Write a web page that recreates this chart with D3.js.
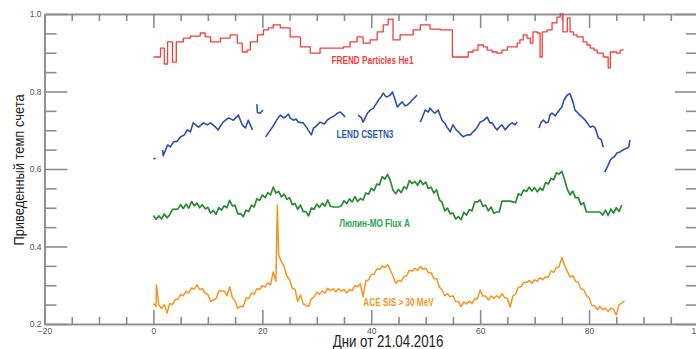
<!DOCTYPE html>
<html>
<head>
<meta charset="utf-8">
<script src="https://cdn.jsdelivr.net/npm/d3@7"></script>
<style>
  body { margin: 0; background: #fff; }
  svg { display: block; }
  .axis path, .axis line { stroke: #8c8c8c; stroke-width: 1.6; }
  .axis text { font-family: "Liberation Sans", Arial, sans-serif; font-size: 8.5px; fill: #555; }
  .title { font-family: "Liberation Sans", Arial, sans-serif; fill: #222; }
  .lab { font-family: "Liberation Sans", Arial, sans-serif; font-weight: bold; font-size: 10px; }
</style>
</head>
<body>
<svg id="chart" width="696" height="349"></svg>
<script>
// x ticks and y ticks
const xMajor = [-20, 0, 20, 40, 60, 80, 100];
const yMajor = [0.2, 0.4, 0.6, 0.8, 1.0];

// FREND Particles He1 (step line)
const frendDays = [0, 1.3, 2.0, 2.6, 3.5, 4.2, 5.5, 6.8, 8.6, 9.5, 10.5, 12.3, 14.1, 15.4, 16.3, 17.2, 17.8, 19.1, 20.2, 21.1,
  22.0, 23.3, 25.1, 27.0, 28.8, 30.6, 33.0, 34.9, 36.1, 37.4, 38.5, 39.8, 41.1, 42.2, 43.1, 44.0, 45.3, 47.7, 49.0, 50.8,
  52.7, 54.9, 57.8, 58.7, 59.6, 60.6, 61.3, 62.2, 63.1, 64.0, 65.0, 65.9, 66.8, 67.3, 67.9, 68.6, 69.2, 69.7, 70.5, 71.0,
  71.4, 72.3, 73.2, 74.1, 74.7, 75.2, 76.0, 76.5, 77.1, 77.8, 78.9, 79.6, 80.2, 80.9, 81.5, 82.6, 83.5, 83.9, 84.2, 85.1,
  85.7, 86.2];
const frendValues = [0.889, 0.912, 0.871, 0.928, 0.876, 0.928, 0.938, 0.943, 0.951, 0.941, 0.928, 0.938, 0.946, 0.925, 0.902, 0.907, 0.928, 0.946, 0.959, 0.964,
  0.972, 0.964, 0.941, 0.915, 0.899, 0.912, 0.912, 0.915, 0.928, 0.941, 0.925, 0.933, 0.954, 0.972, 0.987, 0.933, 0.946, 0.959, 0.972, 0.961,
  0.959, 0.889, 0.902, 0.907, 0.920, 0.915, 0.907, 0.902, 0.899, 0.907, 0.915, 0.915, 0.925, 0.933, 0.946, 0.938, 0.925, 0.954, 0.951, 0.889,
  0.954, 0.959, 0.977, 0.992, 1.0, 0.954, 0.990, 0.954, 0.946, 0.941, 0.928, 0.920, 0.912, 0.907, 0.899, 0.889, 0.861, 0.902, 0.902, 0.899,
  0.907, 0.910];

// LEND CSETN3 (null = data gap)
const lendDays = [0, 0.4, 1.0,
  1.7, 1.8, 2.6, 3.1, 3.7, 4.4, 5.0, 5.7, 6.2, 6.8, 7.3, 8.3, 9.2, 9.9, 10.5, 11.4, 11.9, 12.3, 12.8, 13.8, 14.7, 15.6, 16.3, 16.9, 17.4, 18.2, 18.5,
  19.0, 19.1, 19.6, 20.1, 20.3,
  20.6, 21.1, 21.5, 22.0, 22.4, 22.9, 23.3, 23.9, 24.2, 24.8, 25.1, 25.7, 26.2, 26.6, 27.5, 28.1, 28.4, 29.0, 29.4, 29.7, 30.6, 31.4, 31.9, 32.5, 32.8,
  33.4, 33.8, 34.3, 34.9, 35.2, 36.0,
  37.6, 38.2, 38.5, 39.3, 39.8, 40.4, 40.9, 41.3, 41.8, 42.2, 42.6, 42.9, 43.5, 43.9, 44.4, 44.8, 45.3, 45.7, 46.2, 46.6, 47.2, 47.5, 48.1, 48.4, 48.7,
  49.0, 49.4, 49.9, 50.5, 50.8, 51.4, 51.7, 52.3, 52.7, 53.0, 53.6, 53.9, 54.5, 55.0, 55.6, 56.0, 56.5, 56.9, 57.6, 58.2, 58.7, 59.1, 59.6, 60.0, 60.7,
  61.3, 61.8, 62.2, 62.8, 63.1, 63.7, 64.0, 64.6, 65.0, 65.5, 65.9, 66.4, 66.8, 68.0,
  70.8, 71.2, 71.6, 72.1, 72.5, 72.8, 73.2, 73.8, 74.1, 74.7, 75.0, 75.4, 76.0, 76.5, 77.1, 77.4, 77.8, 78.3, 78.9, 79.3, 79.8, 80.2, 80.7, 81.1, 81.5,
  81.7, 82.2, 82.6, 82.75,
  82.9, 83.5, 83.9, 84.2, 84.6, 85.1, 85.7, 86.2, 87.0, 87.3, 87.5];
const lendValues = [0.628, 0.626, null,
  0.649, 0.634, 0.662, 0.657, 0.670, 0.672, 0.683, 0.688, 0.701, 0.696, 0.719, 0.708, 0.719, 0.714, 0.719, 0.708, 0.701, 0.711, 0.721, 0.732, 0.726, 0.739, 0.714, 0.706, 0.726, 0.701, null,
  0.767, 0.746, 0.744, 0.752, null,
  0.683, 0.693, 0.701, 0.711, 0.721, 0.732, 0.739, 0.732, 0.734, 0.742, 0.732, 0.726, 0.729, 0.721, 0.719, 0.708, 0.701, 0.688, 0.706, 0.708, 0.721, 0.716, 0.726, 0.732, 0.734,
  0.739, 0.744, 0.747, 0.739, 0.734, null,
  0.739, 0.732, 0.721, 0.744, 0.752, 0.757, 0.768, 0.778, 0.786, 0.796, 0.788, 0.786, 0.791, 0.799, 0.778, 0.760, 0.768, 0.773, 0.763, 0.765, 0.773, 0.778, 0.786, 0.791, null,
  0.721, 0.734, 0.752, 0.747, 0.757, 0.747, 0.744, 0.752, 0.737, 0.726, 0.716, 0.708, 0.696, 0.714, 0.701, 0.696, 0.688, 0.683, 0.688, 0.688, 0.696, 0.701, 0.711, 0.721, 0.726,
  0.734, 0.719, 0.719, 0.706, 0.701, 0.711, 0.714, 0.701, 0.708, 0.716, 0.719, 0.714, 0.721, null,
  0.706, 0.721, 0.726, 0.719, 0.721, 0.739, 0.744, 0.737, 0.744, 0.755, 0.760, 0.778, 0.791, 0.794, 0.770, 0.752, 0.747, 0.739, 0.732, 0.726, 0.716, 0.708, 0.711, 0.706, 0.690,
  0.680, 0.677, 0.657, null,
  0.592, 0.610, 0.623, 0.628, 0.631, 0.641, 0.644, 0.649, 0.654, 0.657, 0.675];

// Люлин-МО Flux A, one value every half day from day 0
const lulinStep = 0.5;
const lulinValues = [
  0.480, 0.470, 0.479, 0.471, 0.484, 0.474, 0.482, 0.496, 0.496, 0.497,
  0.508, 0.498, 0.509, 0.499, 0.516, 0.505, 0.512, 0.500, 0.508, 0.497,
  0.501, 0.486, 0.493, 0.483, 0.500, 0.494, 0.505, 0.500, 0.519, 0.505,
  0.506, 0.484, 0.485, 0.477, 0.494, 0.490, 0.507, 0.502, 0.523, 0.519,
  0.533, 0.526, 0.539, 0.533, 0.553, 0.538, 0.542, 0.528, 0.535, 0.522,
  0.526, 0.508, 0.511, 0.496, 0.507, 0.490, 0.490, 0.479, 0.499, 0.496,
  0.509, 0.501, 0.512, 0.504, 0.520, 0.504, 0.502, 0.502, 0.502, 0.505,
  0.518, 0.511, 0.523, 0.515, 0.529, 0.516, 0.524, 0.520, 0.538, 0.535,
  0.550, 0.544, 0.561, 0.559, 0.580, 0.574, 0.586, 0.570, 0.545, 0.536,
  0.547, 0.539, 0.554, 0.549, 0.570, 0.562, 0.568, 0.558, 0.571, 0.560,
  0.566, 0.550, 0.553, 0.538, 0.546, 0.521, 0.514, 0.492, 0.499, 0.484,
  0.487, 0.471, 0.477, 0.469, 0.488, 0.481, 0.495, 0.492, 0.515, 0.515,
  0.520, 0.504, 0.507, 0.492, 0.502, 0.486, 0.489, 0.489, 0.517, 0.517,
  0.517, 0.517, 0.515, 0.513, 0.536, 0.532, 0.546, 0.542, 0.553, 0.543,
  0.552, 0.541, 0.551, 0.545, 0.565, 0.561, 0.576, 0.572, 0.590, 0.587,
  0.594, 0.572, 0.548, 0.533, 0.543, 0.526, 0.526, 0.508, 0.513, 0.489,
  0.489, 0.489, 0.489, 0.489, 0.489, 0.481, 0.494, 0.480, 0.497, 0.486,
  0.500, 0.490, 0.507];

// ACE SIS > 30 MeV, one value every half day from day 0, plus narrow spikes
const aceStep = 0.5;
const aceValues = [
  0.253, 0.245, 0.249, 0.240, 0.250, 0.228, 0.253, 0.250, 0.263, 0.264,
  0.276, 0.273, 0.284, 0.280, 0.293, 0.290, 0.301, 0.289, 0.291, 0.280,
  0.276, 0.258, 0.262, 0.265, 0.285, 0.285, 0.285, 0.273, 0.296, 0.268,
  0.260, 0.240, 0.246, 0.245, 0.267, 0.266, 0.280, 0.277, 0.291, 0.289,
  0.299, 0.295, 0.306, 0.301, 0.334, 0.310, 0.378, 0.361, 0.348, 0.324,
  0.314, 0.292, 0.290, 0.258, 0.275, 0.252, 0.248, 0.245, 0.265, 0.270,
  0.282, 0.277, 0.285, 0.280, 0.292, 0.286, 0.291, 0.283, 0.291, 0.285,
  0.289, 0.280, 0.289, 0.286, 0.299, 0.296, 0.304, 0.270, 0.311, 0.314,
  0.328, 0.328, 0.342, 0.341, 0.350, 0.346, 0.353, 0.340, 0.323, 0.305,
  0.313, 0.310, 0.323, 0.324, 0.339, 0.336, 0.344, 0.338, 0.348, 0.341,
  0.344, 0.332, 0.332, 0.317, 0.317, 0.296, 0.287, 0.273, 0.278, 0.270,
  0.273, 0.258, 0.258, 0.245, 0.257, 0.252, 0.259, 0.253, 0.265, 0.265,
  0.288, 0.272, 0.272, 0.262, 0.272, 0.266, 0.273, 0.267, 0.278, 0.268,
  0.266, 0.244, 0.272, 0.277, 0.295, 0.296, 0.308, 0.307, 0.312, 0.305,
  0.314, 0.310, 0.320, 0.314, 0.322, 0.320, 0.337, 0.333, 0.346, 0.348,
  0.372, 0.351, 0.336, 0.321, 0.325, 0.310, 0.307, 0.291, 0.289, 0.274,
  0.268, 0.248, 0.247, 0.237, 0.245, 0.237, 0.241, 0.232, 0.241, 0.238,
  0.223, 0.250, 0.254, 0.260];
const aceSpikeDays = [0.55, 22.75];
const aceSpikeValues = [0.301, 0.507];

const seriesLabels = ["FREND Particles He1", "LEND CSETN3", "Люлин-МО Flux A", "ACE SIS > 30 MeV"];
const seriesColors = ["#f0403c", "#2c52a8", "#2a8a34", "#f7941d"];

const svg = d3.select("#chart");
const x = d3.scaleLinear().domain([-20, 100]).range([44.5, 698]);
const y = d3.scaleLinear().domain([0.2, 1.0]).range([324, 14]);

const xMinor = d3.range(-20, 101, 5).filter(v => v % 20 !== 0);
const yMinor = d3.range(0.2, 1.0001, 0.05).map(v => +v.toFixed(2)).filter(v => Math.round(v * 100) % 20 !== 0);

// axes: ticks point inward
function addAxis(axis, tr) {
  svg.append("g").attr("class", "axis").attr("transform", tr).call(axis);
}
addAxis(d3.axisBottom(x).tickValues(xMinor).tickSize(-7).tickSizeOuter(0).tickFormat(""), `translate(0,${y(0.2)})`);
addAxis(d3.axisBottom(x).tickValues(xMajor).tickSize(-14).tickSizeOuter(0).tickPadding(4).tickFormat(d3.format("d")), `translate(0,${y(0.2)})`);
addAxis(d3.axisTop(x).tickValues(xMinor).tickSize(-7).tickSizeOuter(0).tickFormat(""), `translate(0,${y(1.0)})`);
addAxis(d3.axisTop(x).tickValues(xMajor).tickSize(-14).tickSizeOuter(0).tickFormat(""), `translate(0,${y(1.0)})`);
addAxis(d3.axisLeft(y).tickValues(yMinor).tickSize(-12).tickSizeOuter(0).tickFormat(""), `translate(${x(-20)},0)`);
addAxis(d3.axisLeft(y).tickValues(yMajor).tickSize(-23).tickSizeOuter(0).tickPadding(3).tickFormat(d3.format(".1f")), `translate(${x(-20)},0)`);
addAxis(d3.axisRight(y).tickValues(yMinor).tickSize(-12).tickSizeOuter(0).tickFormat(""), `translate(${x(100)},0)`);
addAxis(d3.axisRight(y).tickValues(yMajor).tickSize(-23).tickSizeOuter(0).tickFormat(""), `translate(${x(100)},0)`);

// build point lists
const frend = frendDays.map((d, i) => [d, frendValues[i]]);
const lend = lendDays.map((d, i) => [d, lendValues[i]]);
const lulin = lulinValues.map((v, i) => [i * lulinStep, v]);
const ace = aceValues.map((v, i) => [i * aceStep, v])
  .concat(aceSpikeDays.map((d, i) => [d, aceSpikeValues[i]]))
  .sort((a, b) => a[0] - b[0]);

const line = d3.line()
  .defined(d => d[1] != null)
  .x(d => x(d[0]))
  .y(d => y(d[1]));

const plots = [
  { data: frend, curve: d3.curveStepAfter, w: 1.3 },
  { data: lend, curve: d3.curveLinear, w: 1.6 },
  { data: lulin, curve: d3.curveLinear, w: 1.7 },
  { data: ace, curve: d3.curveLinear, w: 1.5 }
];

svg.append("g").selectAll("path")
  .data(plots)
  .join("path")
  .attr("fill", "none")
  .attr("stroke", (d, i) => seriesColors[i])
  .attr("stroke-width", d => d.w)
  .attr("stroke-linejoin", "round")
  .attr("d", d => line.curve(d.curve)(d.data));

// series labels (condensed by horizontal scaling)
const labelPos = [[372.5, 0.880], [365, 0.689], [374.5, 0.460], [398.5, 0.255]];
const labelColors = ["#f0403c", "#2c5aa8", "#22a84a", "#f7941d"];
svg.append("g").selectAll("text")
  .data(seriesLabels)
  .join("text")
  .attr("class", "lab")
  .attr("transform", (d, i) => `translate(${labelPos[i][0]},${y(labelPos[i][1])}) scale(0.82,1)`)
  .attr("dy", "0.35em")
  .attr("text-anchor", "middle")
  .attr("fill", (d, i) => labelColors[i])
  .text(d => d);

// axis titles
svg.append("text").attr("class", "title")
  .attr("transform", "translate(388,347) scale(0.83,1)")
  .attr("text-anchor", "middle")
  .style("font-size", "16px")
  .text("Дни от 21.04.2016");

svg.append("text").attr("class", "title")
  .attr("transform", "translate(24,170) rotate(-90) scale(0.86,1)")
  .attr("text-anchor", "middle")
  .style("font-size", "15px")
  .text("Приведенный темп счета");
</script>
</body>
</html>
